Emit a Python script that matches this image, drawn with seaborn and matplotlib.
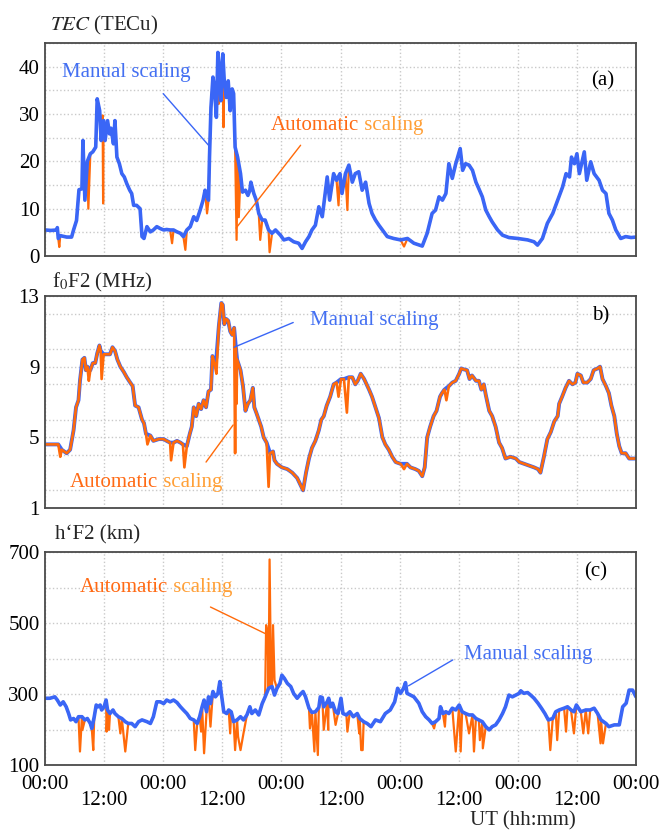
import numpy as np
import pandas as pd
import matplotlib
matplotlib.use("Agg")
import matplotlib.pyplot as plt
from matplotlib.ticker import MultipleLocator, FixedLocator, FixedFormatter
import seaborn as sns

# ---------------- data (time in hours from start, 5 days) ----------------
# Panel (a) TEC, manual scaling
tec_t = [0.0, 1.2, 2.4, 2.5, 2.7, 3.1, 4.4, 5.4, 5.8, 6.4, 6.9, 7.5, 7.7, 8.1, 8.6, 9.2, 9.7, 10.3,
         10.6, 11.1, 11.4, 11.9, 12.2, 12.7, 13.1, 13.4, 13.9, 14.2, 14.6, 15.1, 15.6, 16.1, 16.6,
         17.2, 17.6, 18.0, 18.6, 19.3, 19.7, 20.1, 20.7, 21.4, 22.0, 22.7, 23.4, 24.1, 24.7, 25.4,
         26.1, 26.8, 27.5, 28.1, 28.8, 29.5, 30.2, 30.8, 31.5, 32.1, 32.5, 32.9, 33.2, 33.4, 33.7,
         34.1, 34.4, 34.8, 35.1, 35.4, 35.7, 36.1, 36.4, 36.8, 37.2, 37.6, 38.0, 38.3, 38.6, 39.1,
         39.7, 40.1, 40.7, 41.2, 41.6, 41.8, 42.4, 42.9, 43.4, 44.1, 44.7, 45.4, 46.1, 46.8, 47.8,
         48.5, 49.5, 50.5, 51.5, 52.2, 52.9, 53.6, 54.2, 54.9, 55.6, 56.3, 57.3, 57.8, 58.6, 59.2,
         59.9, 60.3, 61.0, 61.7, 62.4, 63.0, 63.7, 64.4, 65.1, 65.8, 66.4, 67.1, 67.8, 68.5, 69.5,
         70.8, 72.2, 73.6, 74.9, 76.6, 77.6, 78.6, 79.3, 80.0, 80.7, 81.4, 82.0, 82.7, 83.4, 84.3,
         84.8, 85.4, 86.1, 86.8, 87.5, 88.1, 88.8, 89.5, 90.2, 90.8, 91.9, 92.9, 94.2, 96.0, 98.0,
         99.3, 100.0, 101.0, 102.0, 103.1, 104.1, 105.1, 105.8, 106.5, 106.9, 107.5, 108.0, 108.5,
         109.5, 110.0, 110.8, 111.5, 112.5, 113.2, 113.9, 114.5, 115.2, 115.9, 116.9, 117.9, 119.0,
         120.0]
tec_manual = [5.5, 5.4, 5.5, 6.0, 3.7, 4.3, 4.0, 4.0, 5.5, 7.5, 14.0, 14.2, 24.4, 11.8, 20.0, 21.6,
              22.0, 23.0, 33.2, 30.7, 24.4, 28.6, 24.4, 28.6, 25.8, 27.0, 23.7, 28.6, 20.9, 19.5,
              17.4, 16.7, 15.3, 13.9, 13.2, 10.7, 10.7, 10.0, 4.1, 3.7, 6.2, 5.1, 5.5, 6.2, 5.8, 5.5,
              5.6, 5.5, 5.5, 5.1, 4.8, 4.1, 5.5, 6.2, 8.3, 7.5, 9.7, 11.8, 13.9, 12.5, 11.8, 20.9,
              31.4, 37.8, 35.6, 29.3, 43.0, 39.9, 32.8, 42.7, 37.0, 33.5, 37.0, 30.7, 35.3, 34.3,
              23.0, 20.9, 17.4, 13.5, 13.9, 12.8, 13.9, 15.6, 13.2, 11.8, 9.0, 7.6, 7.6, 5.5, 4.8,
              5.5, 4.4, 3.4, 3.7, 3.0, 2.7, 1.6, 3.0, 4.1, 5.5, 6.5, 10.4, 8.3, 16.7, 11.8, 17.4,
              16.0, 17.4, 13.2, 17.4, 19.2, 15.6, 17.4, 17.8, 13.9, 15.6, 11.1, 9.0, 7.6, 6.5, 5.5,
              4.1, 3.7, 3.4, 3.7, 2.7, 2.1, 4.8, 9.0, 9.7, 12.5, 11.8, 13.2, 19.5, 16.4, 19.5, 22.7,
              18.1, 19.5, 19.2, 18.1, 15.6, 14.2, 12.5, 9.7, 8.3, 7.2, 5.5, 4.4, 3.9, 3.7, 3.4, 3.0,
              2.3, 3.7, 6.9, 9.0, 11.8, 14.6, 17.4, 16.7, 20.9, 19.5, 21.6, 17.4, 22.0, 16.0, 19.9,
              17.4, 16.0, 13.9, 13.2, 9.0, 7.6, 5.5, 3.7, 4.1, 3.9, 4.0]
# automatic scaling: values where it departs from the manual curve
tec_auto_t = [2.9, 8.8, 11.7, 11.8, 25.8, 28.5, 32.9, 35.25, 36.25, 38.9, 39.1, 39.35, 43.7, 45.6,
              59.6, 61.4, 72.9]
tec_auto_v = [1.9, 10.0, 29.7, 11.1, 2.7, 1.3, 9.0, 32.1, 27.2, 3.4, 21.3, 8.2, 3.4, 0.8,
              10.7, 9.7, 2.0]

# Panel (b) foF2, manual scaling
fof2_t = [0.0, 2.7, 3.4, 4.4, 5.1, 5.8, 6.3, 6.8, 7.1, 7.6, 8.0, 8.3, 8.6, 9.2, 9.7, 10.2, 10.6,
          11.05, 11.3, 11.9, 12.5, 13.2, 13.7, 14.2, 14.7, 15.3, 16.0, 16.6, 17.3, 17.8, 18.3,
          19.0, 19.7, 20.1, 20.5, 21.4, 22.0, 23.1, 24.1, 24.7, 25.4, 26.1, 26.8, 27.5, 28.0,
          28.8, 29.4, 29.8, 30.2, 30.7, 31.2, 31.7, 32.2, 32.7, 33.2, 33.7, 34.0, 34.4, 34.8,
          35.3, 35.8, 36.1, 36.4, 36.8, 37.2, 37.6, 38.0, 38.4, 38.75, 39.0, 39.7, 40.2, 40.7,
          41.2, 41.7, 42.2, 42.5, 42.9, 43.4, 43.9, 44.4, 45.0, 45.7, 46.3, 46.6, 47.1, 48.1,
          49.2, 50.2, 51.2, 51.9, 52.4, 53.0, 53.6, 54.2, 54.9, 55.6, 56.1, 56.6, 57.2, 57.9,
          58.6, 59.2, 60.1, 60.7, 61.7, 62.4, 63.0, 63.5, 64.1, 64.8, 65.8, 66.4, 67.1, 67.8,
          68.5, 69.1, 69.8, 70.5, 71.2, 72.2, 73.5, 74.2, 75.2, 75.9, 76.6, 77.1, 77.6, 78.2,
          78.9, 79.5, 80.2, 80.6, 81.1, 82.0, 82.7, 83.4, 84.1, 84.5, 85.0, 85.7, 86.2, 86.7,
          87.5, 88.1, 88.6, 89.1, 89.5, 90.2, 90.8, 91.5, 92.2, 92.8, 93.5, 94.5, 95.6, 96.3,
          97.3, 98.3, 99.3, 100.1, 100.6, 101.3, 102.0, 102.7, 103.4, 104.1, 104.4, 105.0,
          105.7, 106.4, 107.1, 107.7, 108.1, 108.8, 109.3, 110.1, 110.8, 111.4, 112.2, 112.7,
          113.2, 113.9, 114.5, 115.0, 115.6, 116.1, 116.6, 117.1, 117.9, 118.6, 119.3, 120.0]
fof2_manual = [4.6, 4.6, 4.3, 4.1, 4.3, 5.4, 6.7, 7.1, 8.2, 9.4, 9.5, 8.8, 9.0, 8.8, 9.2, 9.2,
               9.75, 10.2, 9.9, 9.7, 9.7, 9.7, 10.1, 9.9, 9.4, 9.0, 8.7, 8.4, 8.1, 7.9, 6.8, 6.7,
               6.0, 5.8, 5.2, 5.1, 4.8, 4.9, 4.9, 4.8, 4.7, 4.7, 4.8, 4.7, 4.6, 4.5, 5.2, 5.6,
               6.7, 6.2, 6.9, 6.6, 7.1, 6.7, 7.6, 7.7, 9.6, 9.2, 9.5, 11.3, 12.6, 12.5, 11.4,
               11.7, 11.6, 11.0, 10.8, 11.2, 10.1, 9.4, 8.8, 7.9, 6.5, 6.9, 7.1, 7.8, 6.7, 6.4,
               6.0, 5.6, 5.0, 4.7, 4.1, 4.2, 3.7, 3.5, 3.3, 3.2, 3.0, 2.7, 2.3, 2.0, 3.0, 3.8,
               4.4, 4.8, 5.4, 6.0, 6.2, 6.8, 7.3, 8.0, 8.1, 8.3, 8.3, 8.4, 8.4, 8.0, 8.2, 8.6,
               8.3, 7.7, 7.3, 6.7, 6.1, 5.0, 4.6, 4.3, 3.9, 3.6, 3.5, 3.5, 3.3, 3.2, 3.1, 2.8,
               3.3, 5.0, 5.6, 6.2, 6.5, 7.3, 7.5, 7.7, 7.9, 8.1, 8.2, 8.6, 8.9, 8.85, 8.8, 8.3,
               8.5, 8.2, 8.2, 7.7, 8.0, 7.4, 6.5, 6.2, 5.6, 4.7, 4.4, 3.8, 3.9, 3.8, 3.6, 3.5,
               3.4, 3.3, 3.2, 3.0, 3.9, 4.9, 5.3, 5.9, 6.2, 6.9, 7.3, 7.8, 8.2, 8.0, 8.1, 8.6,
               8.5, 8.1, 8.1, 8.3, 8.8, 8.9, 9.0, 8.3, 7.9, 7.5, 6.8, 6.2, 5.2, 4.5, 4.1, 4.1,
               3.8, 3.8, 3.8]
fof2_auto_t = [3.1, 8.9, 11.5, 20.8, 25.6, 28.3, 34.8, 38.6, 38.9, 45.4, 59.6, 61.3, 72.9, 81.5]
fof2_auto_v = [3.9, 8.2, 8.3, 4.6, 3.7, 3.3, 8.6, 4.1, 6.9, 2.2, 7.3, 6.4, 3.2, 7.1]

# Panel (c) h'F2, manual scaling
hf2_t = [0.0, 1.0, 2.0, 2.5, 3.1, 3.7, 4.3, 4.8, 5.2, 5.8, 6.3, 6.8, 7.5, 8.1, 8.6, 9.2, 9.5,
         10.0, 10.4, 10.8, 11.2, 11.5, 12.0, 12.4, 12.7, 13.2, 13.8, 14.2, 14.9, 15.6, 16.3,
         16.9, 17.6, 18.3, 19.0, 19.7, 20.7, 21.4, 22.0, 22.7, 23.4, 24.1, 24.7, 25.4, 26.1,
         26.8, 27.5, 28.1, 28.8, 29.5, 30.2, 30.9, 31.4, 31.9, 32.3, 32.8, 33.2, 33.6, 34.1,
         34.6, 35.1, 35.5, 35.8, 36.3, 36.9, 37.3, 37.8, 38.3, 39.0, 39.7, 40.3, 41.0, 41.6,
         42.0, 42.7, 43.4, 44.1, 44.7, 45.4, 46.1, 46.6, 47.1, 47.7, 48.1, 48.6, 49.2, 49.9,
         50.5, 51.2, 51.9, 52.4, 52.9, 53.6, 54.2, 54.9, 55.6, 55.9, 56.3, 56.6, 57.3, 57.6,
         58.0, 58.4, 59.0, 59.5, 60.1, 60.5, 61.2, 61.9, 62.6, 63.4, 63.9, 64.7, 65.4, 66.2,
         67.1, 68.1, 69.1, 70.1, 71.0, 71.6, 72.2, 72.8, 73.2, 73.5, 74.2, 74.9, 75.9, 76.6,
         77.3, 78.0, 78.6, 79.3, 80.0, 80.3, 80.8, 81.4, 82.0, 82.7, 83.4, 84.1, 84.7, 85.4,
         86.1, 86.8, 87.5, 88.1, 88.8, 89.5, 90.2, 90.8, 91.5, 92.2, 92.9, 93.5, 94.2, 94.9,
         95.6, 96.3, 96.6, 97.2, 98.0, 98.6, 99.3, 100.1, 100.8, 101.5, 102.2, 103.1, 103.7,
         104.4, 105.4, 106.1, 106.8, 107.4, 107.9, 108.8, 109.8, 110.7, 111.5, 112.2, 112.9,
         113.9, 114.5, 115.6, 116.6, 117.3, 118.0, 118.6, 119.3, 120.0]
hf2_manual = [288, 288, 292, 283, 269, 278, 264, 245, 227, 231, 222, 236, 236, 227, 231, 217, 203,
              236, 269, 264, 269, 255, 264, 283, 255, 245, 255, 245, 236, 231, 222, 217, 217,
              208, 222, 227, 222, 217, 236, 278, 278, 273, 283, 278, 283, 276, 264, 255, 245,
              231, 227, 217, 236, 264, 283, 250, 292, 273, 307, 292, 301, 335, 301, 250, 245,
              255, 250, 222, 227, 236, 227, 241, 264, 245, 255, 241, 273, 292, 316, 321, 297,
              316, 330, 353, 344, 330, 321, 301, 288, 300, 307, 292, 260, 248, 250, 262, 292,
              290, 264, 278, 288, 264, 274, 250, 245, 288, 245, 241, 250, 236, 245, 231, 222,
              217, 208, 227, 222, 245, 255, 278, 316, 302, 316, 332, 302, 297, 292, 274, 250,
              236, 227, 217, 222, 231, 264, 245, 250, 245, 260, 255, 269, 250, 245, 241, 241,
              231, 227, 222, 208, 199, 208, 213, 227, 245, 264, 297, 292, 297, 302, 309, 302,
              304, 297, 288, 274, 260, 245, 227, 231, 250, 255, 260, 264, 255, 250, 269, 250,
              255, 255, 260, 245, 227, 217, 208, 213, 213, 264, 274, 311, 311, 292]
hf2_auto_t = [7.1, 7.6, 9.8, 12.5, 13.0, 15.3, 16.3, 30.5, 31.7, 32.3, 33.6, 37.6, 38.6, 39.2,
              39.7, 40.3, 44.9, 45.2, 45.6, 45.9, 46.3, 46.6, 53.8, 54.7, 55.4, 56.6, 57.5,
              59.0, 61.4, 63.8, 64.2, 64.5, 79.0, 81.2, 83.4, 84.4, 86.1, 87.1, 88.3, 88.9,
              102.6, 104.0, 105.8, 107.4, 109.3, 110.3, 112.8, 113.3]
hf2_auto_v = [138, 199, 142, 194, 199, 189, 138, 142, 194, 133, 208, 189, 142, 180, 142, 189,
              494, 470, 679, 321, 494, 339, 203, 138, 128, 199, 199, 213, 194, 189, 142, 142,
              203, 208, 138, 138, 189, 138, 170, 147, 142, 170, 194, 189, 189, 189, 161, 161]

day_ticks = [0, 24, 48, 72, 96, 120]
day_labels = ["00:00"] * 6
noon_ticks = [12, 36, 60, 84, 108]
noon_labels = ["12:00"] * 5
tec_yticks = [0, 10, 20, 30, 40]
fof2_yticks = [1, 5, 9, 13]
hf2_yticks = [100, 300, 500, 700]

# ---------------- style ----------------
sns.set_theme(style="white")
plt.rcParams["font.family"] = ["Liberation Serif", "DejaVu Serif"]
plt.rcParams["mathtext.fontset"] = "stix"
FS = 15
BLUE = "#3a66f6"
ORANGE = "#ff6a0a"
TXT_BLUE = "#4470f2"
TXT_OR1 = "#ff6a14"
TXT_OR2 = "#ffa038"
GRID = "#c9c9c9"

fig = plt.figure(figsize=(6.63, 8.31), dpi=100)
W, H = 663.0, 831.0
def axrect(top, bottom, left=45, right=636):
    return [left / W, 1 - bottom / H, (right - left) / W, (bottom - top) / H]

axa = fig.add_axes(axrect(43, 256))
axb = fig.add_axes(axrect(296, 508))
axc = fig.add_axes(axrect(552, 765))


def merged(t, v, st, sv):
    base = pd.DataFrame({"t": t, "v": v})
    sp = pd.DataFrame({"t": st, "v": sv})
    df = pd.concat([sp, base]).drop_duplicates("t", keep="first").sort_values("t")
    return df.reset_index(drop=True)


def style_axis(ax, ylim, yticks, minor, show_x):
    ax.set_xlim(0, 120)
    ax.set_ylim(*ylim)
    ax.xaxis.set_major_locator(FixedLocator(day_ticks))
    ax.xaxis.set_minor_locator(FixedLocator(noon_ticks))
    if show_x:
        ax.xaxis.set_major_formatter(FixedFormatter(day_labels))
        ax.xaxis.set_minor_formatter(FixedFormatter(noon_labels))
    else:
        ax.set_xticklabels([])
        ax.xaxis.set_minor_formatter(FixedFormatter([""] * 5))
    ax.yaxis.set_major_locator(FixedLocator(yticks))
    ax.yaxis.set_major_formatter(FixedFormatter([str(v) for v in yticks]))
    ax.yaxis.set_minor_locator(MultipleLocator(minor))
    ax.grid(True, which="both", color=GRID, linestyle=":", linewidth=1.0)
    ax.tick_params(which="both", length=0, labelsize=FS, colors="black")
    ax.tick_params(axis="y", pad=4)
    ax.tick_params(axis="x", which="major", pad=7)
    ax.tick_params(axis="x", which="minor", pad=19)
    ax.set_xlabel("")
    ax.set_ylabel("")
    for s in ax.spines.values():
        s.set_color("#4a4a4a")
        s.set_linewidth(1.3)
        s.set_visible(True)
    ax.set_facecolor("white")


def two_color_auto(ax, x, y):
    t1 = ax.text(x, y, "Automatic", color=TXT_OR1, fontsize=FS, ha="left", va="center")
    ax.annotate(" scaling", xy=(1, 0), xycoords=t1, color=TXT_OR2, fontsize=FS,
                ha="left", va="bottom")


def leader(ax, p0, p1, color):
    ax.annotate("", xy=p1, xytext=p0,
                arrowprops=dict(arrowstyle="-", color=color, lw=1.0, shrinkA=0, shrinkB=0))


# ---- panel (a)
da = merged(tec_t, tec_manual, tec_auto_t, tec_auto_v)
sns.lineplot(x=da["t"], y=da["v"], ax=axa, color=ORANGE, lw=1.6, estimator=None, sort=False)
sns.lineplot(x=tec_t, y=tec_manual, ax=axa, color=BLUE, lw=2.6, estimator=None, sort=False)
style_axis(axa, (0, 45), tec_yticks, 5, False)
axa.text(3.5, 38.7, "Manual scaling", color=TXT_BLUE, fontsize=FS, ha="left", va="center")
leader(axa, (24.0, 34.3), (33.2, 23.4), BLUE)
two_color_auto(axa, 45.8, 27.6)
leader(axa, (51.9, 23.4), (38.8, 5.9), ORANGE)
axa.text(113.3, 37.1, "(a)", color="black", fontsize=FS, ha="center", va="center")

# ---- panel (b)
db = merged(fof2_t, fof2_manual, fof2_auto_t, fof2_auto_v)
sns.lineplot(x=fof2_t, y=fof2_manual, ax=axb, color=BLUE, lw=2.8, estimator=None, sort=False)
sns.lineplot(x=db["t"], y=db["v"], ax=axb, color=ORANGE, lw=1.9, estimator=None, sort=False)
style_axis(axb, (1, 13), fof2_yticks, 2, False)
axb.text(53.9, 11.64, "Manual scaling", color=TXT_BLUE, fontsize=FS, ha="left", va="center")
leader(axb, (50.4, 11.5), (38.4, 10.1), BLUE)
two_color_auto(axb, 5.1, 2.47)
leader(axb, (32.7, 3.6), (38.2, 5.7), ORANGE)
axb.text(112.9, 11.9, "b)", color="black", fontsize=FS, ha="center", va="center")

# ---- panel (c)
dc = merged(hf2_t, hf2_manual, hf2_auto_t, hf2_auto_v)
sns.lineplot(x=dc["t"], y=dc["v"], ax=axc, color=ORANGE, lw=1.6, estimator=None, sort=False)
sns.lineplot(x=hf2_t, y=hf2_manual, ax=axc, color=BLUE, lw=2.6, estimator=None, sort=False)
style_axis(axc, (100, 700), hf2_yticks, 100, True)
two_color_auto(axc, 7.1, 601)
leader(axc, (33.6, 545), (44.9, 469), ORANGE)
axc.text(85.0, 410, "Manual scaling", color=TXT_BLUE, fontsize=FS, ha="left", va="center")
leader(axc, (82.8, 396), (73.8, 323), BLUE)
axc.text(111.9, 644, "(c)", color="black", fontsize=FS, ha="center", va="center")

# ---- axis titles
fig.text(50 / W, 1 - 25 / H, r"$\mathit{TEC}$ (TECu)", fontsize=FS, ha="left", va="center")
fig.text(52 / W, 1 - 282 / H, r"f$_0$F2 (MHz)", fontsize=FS, ha="left", va="center")
fig.text(55 / W, 1 - 535 / H, "h\u2018F2 (km)", fontsize=FS, ha="left", va="center")
fig.text(523 / W, 1 - 821 / H, "UT (hh:mm)", fontsize=FS, ha="center", va="center")

fig.savefig("out.png", dpi=100, facecolor="white")
